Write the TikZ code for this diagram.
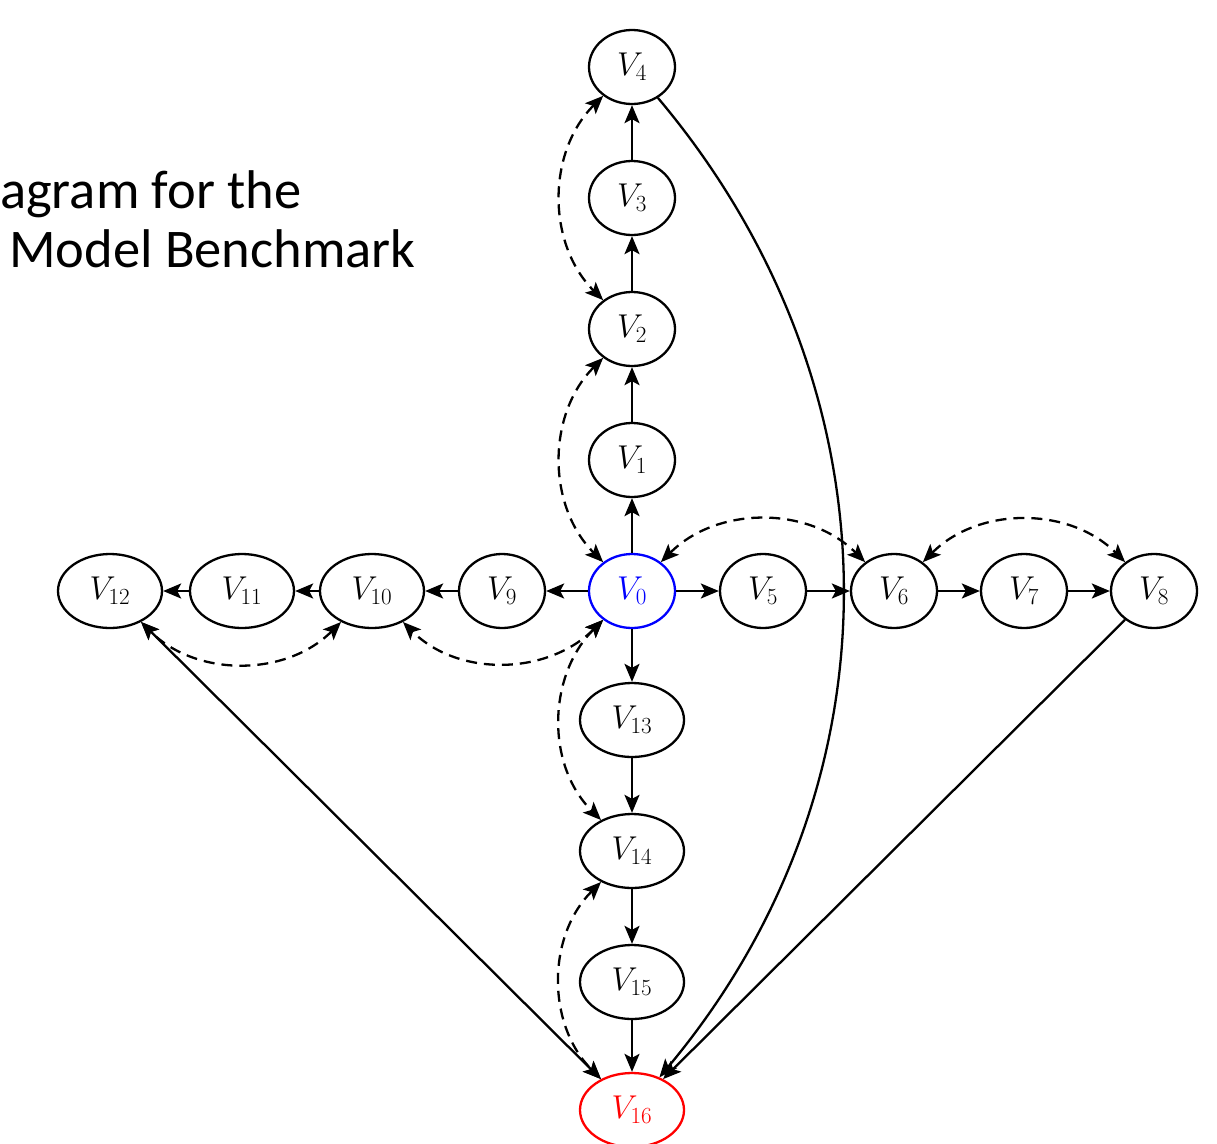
\documentclass[tikz,border=0pt]{standalone}
\usepackage{fix-cm}
\usepackage{fontspec}
\newfontfamily\titlefont{Carlito}
\usetikzlibrary{shapes.geometric,arrows.meta}

\begin{document}
\begin{tikzpicture}[x=1pt,y=1pt,
  var/.style={draw, ellipse, line width=2.3pt, inner sep=0pt,
    minimum width=86pt, minimum height=74pt,
    font=\fontsize{33}{40}\selectfont},
  wide/.style={minimum width=104pt},
  tip/.tip={Stealth[length=18pt,width=15pt,inset=4pt]},
  arr/.style={line width=2.3pt, -tip},
  biarr/.style={line width=2.3pt, tip-tip},
  confound/.style={line width=2.3pt, dash pattern=on 11pt off 7pt, tip-tip},
  title/.style={anchor=base west, inner sep=0pt,
    font=\titlefont\fontsize{54.5}{60}\selectfont}
]
\useasboundingbox (0,0) rectangle (1217,-1143);

% title fragment
\node[title] (t1) at (0,-208) {agram for the};
\node[title] (t2) at (9,-267) {Model Benchmark};

% variables
\node[var, draw=blue, text=blue] (V0) at (632,-591) {$V_{0}$};
\node[var] (V1) at (632,-460) {$V_{1}$};
\node[var] (V2) at (632,-329) {$V_{2}$};
\node[var] (V3) at (632,-198) {$V_{3}$};
\node[var] (V4) at (632,-67) {$V_{4}$};
\node[var] (V5) at (763,-591) {$V_{5}$};
\node[var] (V6) at (894,-591) {$V_{6}$};
\node[var] (V7) at (1024,-591) {$V_{7}$};
\node[var] (V8) at (1154,-591) {$V_{8}$};
\node[var] (V9) at (502,-591) {$V_{9}$};
\node[var, wide] (V10) at (372,-591) {$V_{10}$};
\node[var, wide] (V11) at (242,-591) {$V_{11}$};
\node[var, wide] (V12) at (110,-591) {$V_{12}$};
\node[var, wide] (V13) at (632,-720) {$V_{13}$};
\node[var, wide] (V14) at (632,-851) {$V_{14}$};
\node[var, wide] (V15) at (632,-982) {$V_{15}$};
\node[var, wide, draw=red, text=red] (V16) at (632,-1110) {$V_{16}$};

% directed chains out of V0
\draw[arr] (V0) -- (V1);
\draw[arr] (V1) -- (V2);
\draw[arr] (V2) -- (V3);
\draw[arr] (V3) -- (V4);
\draw[arr] (V0) -- (V5);
\draw[arr] (V5) -- (V6);
\draw[arr] (V6) -- (V7);
\draw[arr] (V7) -- (V8);
\draw[arr] (V0) -- (V9);
\draw[arr] (V9) -- (V10);
\draw[arr] (V10) -- (V11);
\draw[arr] (V11) -- (V12);
\draw[arr] (V0) -- (V13);
\draw[arr] (V13) -- (V14);
\draw[arr] (V14) -- (V15);
\draw[arr] (V15) -- (V16);

% edges into the outcome
\draw[arr] (V4) to[bend left=40] (V16);
\draw[arr] (V8) -- (V16);
\draw[biarr] (V12) -- (V16);

% bidirected (dashed) edges
\draw[confound] (V4) to[out=225,in=135] (V2);
\draw[confound] (V2) to[out=225,in=135] (V0);
\draw[confound] (V0) to[out=225,in=135] (V14);
\draw[confound] (V14) to[out=225,in=135] (V16);
\draw[confound] (V0) to[out=45,in=135] (V6);
\draw[confound] (V6) to[out=45,in=135] (V8);
\draw[confound] (V0) to[out=225,in=-45] (V10);
\draw[confound] (V10) to[out=225,in=-45] (V12);
\end{tikzpicture}
\end{document}
